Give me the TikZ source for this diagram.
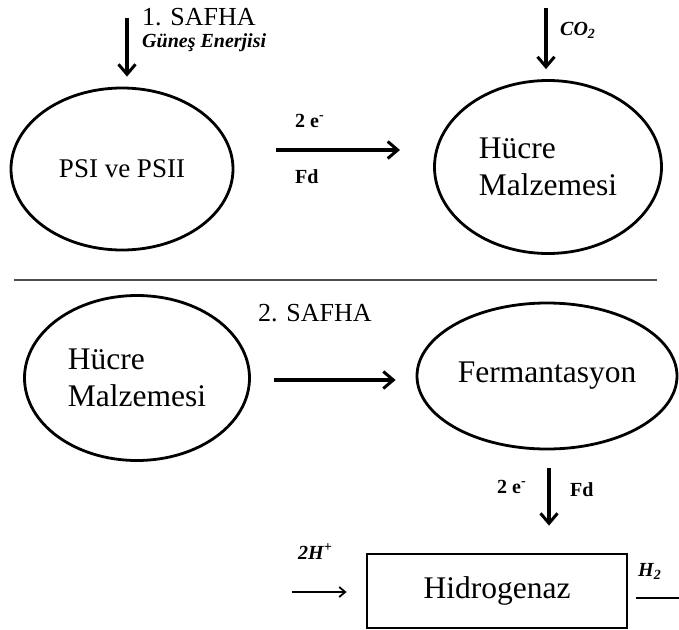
\documentclass[tikz,border=0pt]{standalone}
\usepackage{fontspec}
\setmainfont{Liberation Serif}
\usetikzlibrary{arrows.meta,calc,shapes.geometric}
\begin{document}
\begin{tikzpicture}[x=1pt,y=-1pt,
  oval/.style={draw,ellipse,line width=2.8pt,inner sep=0pt},
  bigtxt/.style={font=\fontsize{31.5}{37}\selectfont},
  arr/.style={line width=3.4pt,-{Straight Barb[length=10pt,width=17pt,line width=3pt]}},
  thinarr/.style={line width=2pt,-{Straight Barb[length=6pt,width=10pt,line width=1.8pt]}},
  lbl/.style={inner sep=0pt,anchor=base west},
  bi/.style={lbl,font=\fontsize{20}{24}\selectfont\bfseries\itshape},
  bl/.style={lbl,font=\fontsize{20}{24}\selectfont\bfseries},
  safha/.style={lbl,font=\fontsize{26}{30}\selectfont}]
\useasboundingbox (0,0) rectangle (679,629);

% Phase 1
\node[oval,minimum width=222pt,minimum height=162pt,font=\fontsize{27}{32}\selectfont] (p1) at (122,169) {PSI ve PSII};
\node[oval,bigtxt,align=left,minimum width=227pt,minimum height=173pt] (h1) at (548,167) {Hücre\\Malzemesi};

\node[safha] (s1) at (142,25) {1. SAFHA};
\node[bi] (sun) at (142,47) {Güneş Enerjisi};
\coordinate (sunstart) at (127,18);
\draw[arr,shorten >=10pt] (sunstart) -- (sunstart |- p1.north);

\node[bi] (co2) at (560,35) {CO\textsubscript{2}};
\coordinate (co2start) at (546,8);
\draw[arr,shorten >=10pt] (co2start) -- (co2start |- h1.north);

\coordinate (a1s) at (276,150);
\coordinate (a1e) at (400,150);
\draw[arr] (a1s) -- (a1e);
\node[bl] (e1) at (295,127) {2 e\textsuperscript{-}};
\node[bl] (fd1) at (295,183) {Fd};

% separator
\coordinate (sepl) at (14,280);
\coordinate (sepr) at (657,280);
\draw[line width=1.4pt,black!70] (sepl) -- (sepr);

% Phase 2
\node[safha] (s2) at (258,321) {2. SAFHA};
\node[oval,bigtxt,align=left,minimum width=225pt,minimum height=165pt] (h2) at (137,378) {Hücre\\Malzemesi};
\node[oval,bigtxt,minimum width=260pt,minimum height=146pt] (f) at (547,376) {Fermantasyon};
\draw[arr,shorten <=23pt,shorten >=20pt] ([yshift=-2pt]h2.east) -- ([yshift=-2pt]h2.east -| f.west);

\node[draw,line width=2.8pt,minimum width=260pt,minimum height=74pt,inner sep=0pt,bigtxt] (hyd) at (497,591) {Hidrogenaz};
\draw[arr,shorten <=18pt,shorten >=27pt] ([xshift=2pt]f.south) -- ([xshift=2pt]f.south |- hyd.north);
\node[bl] (e2) at (497,493) {2 e\textsuperscript{-}};
\node[bl] (fd2) at (570,496) {Fd};

\draw[thinarr] ([xshift=-74pt,yshift=-1pt]hyd.west) -- ([xshift=-19pt,yshift=-1pt]hyd.west);
\node[bi] (hp) at (298,559) {2H\textsuperscript{+}};
\coordinate (h2end) at (679,598);
\draw[line width=2.4pt] ([xshift=8pt,yshift=-7pt]hyd.east) -- (h2end);
\node[bi] (h2lbl) at (638,576) {H\textsubscript{2}};
\end{tikzpicture}
\end{document}
